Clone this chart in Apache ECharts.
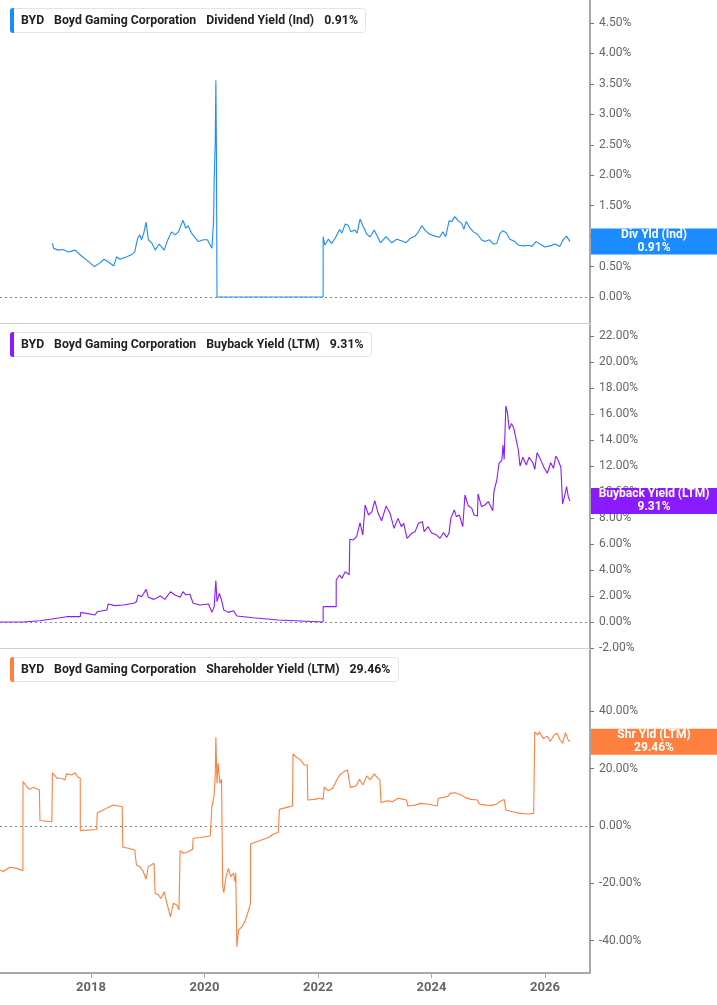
<!DOCTYPE html>
<html>
<head>
<meta charset="utf-8">
<script src="https://cdn.jsdelivr.net/npm/echarts@6/dist/echarts.min.js"></script>
<style>
  html, body { margin: 0; padding: 0; background: #fff; }
  #chart { width: 717px; height: 1005px; }
</style>
</head>
<body>
<div id="chart"></div>
<script>
// dates are decimal years
var divDates = [2017.32, 2017.34, 2017.42, 2017.51, 2017.60, 2017.72, 2017.81, 2017.92, 2018.06, 2018.16,
  2018.23, 2018.30, 2018.40, 2018.45, 2018.51, 2018.63, 2018.72, 2018.77, 2018.82, 2018.86,
  2018.89, 2018.93, 2018.97, 2019.01, 2019.07, 2019.13, 2019.20, 2019.29, 2019.34, 2019.42,
  2019.48, 2019.54, 2019.62, 2019.67, 2019.71, 2019.77, 2019.89, 2019.98, 2020.05, 2020.13,
  2020.16, 2020.17, 2020.19, 2020.20, 2020.21, 2020.22, 2022.09, 2022.091, 2022.12, 2022.18,
  2022.24, 2022.30, 2022.38, 2022.42, 2022.48, 2022.53, 2022.58, 2022.65, 2022.69, 2022.74,
  2022.80, 2022.86, 2022.92, 2022.99, 2023.05, 2023.10, 2023.20, 2023.30, 2023.39, 2023.48,
  2023.55, 2023.62, 2023.71, 2023.77, 2023.83, 2023.89, 2023.97, 2024.06, 2024.14, 2024.20,
  2024.25, 2024.31, 2024.36, 2024.41, 2024.47, 2024.53, 2024.57, 2024.61, 2024.68, 2024.74,
  2024.81, 2024.88, 2024.94, 2025.02, 2025.09, 2025.15, 2025.21, 2025.26, 2025.32, 2025.38,
  2025.47, 2025.53, 2025.62, 2025.71, 2025.77, 2025.84, 2025.91, 2026.00, 2026.09, 2026.18,
  2026.26, 2026.32, 2026.38, 2026.44];
var divValues = [0.88, 0.80, 0.77, 0.78, 0.74, 0.77, 0.69, 0.61, 0.50, 0.56,
  0.62, 0.58, 0.51, 0.66, 0.62, 0.66, 0.70, 0.74, 0.96, 1.02,
  0.94, 1.05, 1.23, 0.94, 0.89, 0.77, 0.87, 0.77, 0.91, 1.07,
  1.02, 1.07, 1.26, 1.13, 1.17, 1.05, 0.91, 0.94, 0.94, 0.80,
  1.26, 1.89, 2.58, 3.56, 2.36, 0, 0, 0.99, 0.85, 0.95,
  0.88, 0.96, 1.11, 1.05, 1.20, 1.18, 1.07, 1.10, 1.05, 1.28,
  1.15, 1.03, 0.99, 1.10, 0.99, 0.89, 0.99, 0.89, 0.95, 0.92,
  0.89, 0.96, 1.00, 1.07, 1.17, 1.09, 1.03, 1.00, 0.98, 1.07,
  0.99, 1.25, 1.24, 1.32, 1.25, 1.21, 1.11, 1.24, 1.13, 1.07,
  1.03, 0.94, 0.91, 0.94, 0.87, 0.88, 1.05, 1.09, 1.05, 0.95,
  0.91, 0.85, 0.84, 0.85, 0.83, 0.91, 0.87, 0.82, 0.84, 0.87,
  0.83, 0.94, 1.00, 0.91];

var buyDates = [2016.40, 2016.80, 2016.81, 2017.10, 2017.57, 2017.81, 2017.82, 2018.07, 2018.11, 2018.28,
  2018.30, 2018.42, 2018.57, 2018.75, 2018.80, 2018.83, 2018.89, 2018.93, 2018.97, 2019.01,
  2019.11, 2019.22, 2019.30, 2019.40, 2019.48, 2019.57, 2019.62, 2019.67, 2019.74, 2019.80,
  2019.92, 2020.07, 2020.13, 2020.17, 2020.20, 2020.22, 2020.26, 2020.30, 2020.34, 2020.42,
  2020.51, 2020.57, 2020.86, 2021.30, 2021.33, 2022.09, 2022.091, 2022.32, 2022.321, 2022.38,
  2022.42, 2022.48, 2022.55, 2022.56, 2022.62, 2022.68, 2022.74, 2022.79, 2022.83, 2022.89,
  2022.95, 2023.00, 2023.06, 2023.12, 2023.20, 2023.27, 2023.34, 2023.41, 2023.47, 2023.51,
  2023.57, 2023.65, 2023.71, 2023.77, 2023.84, 2023.87, 2023.94, 2024.00, 2024.09, 2024.15,
  2024.21, 2024.27, 2024.31, 2024.34, 2024.40, 2024.44, 2024.49, 2024.55, 2024.59, 2024.65,
  2024.71, 2024.75, 2024.81, 2024.82, 2024.88, 2024.94, 2025.00, 2025.08, 2025.10, 2025.15,
  2025.19, 2025.24, 2025.26, 2025.28, 2025.31, 2025.34, 2025.37, 2025.41, 2025.45, 2025.50,
  2025.53, 2025.56, 2025.61, 2025.67, 2025.72, 2025.79, 2025.82, 2025.86, 2025.92, 2025.98,
  2026.04, 2026.10, 2026.15, 2026.19, 2026.23, 2026.28, 2026.31, 2026.35, 2026.38, 2026.41,
  2026.44];
var buyValues = [0, 0, 0.1, 0.1, 0.41, 0.41, 0.74, 0.54, 0.79, 0.92,
  1.38, 1.26, 1.31, 1.44, 1.56, 2.08, 1.95, 2.21, 2.51, 1.90,
  1.74, 2.00, 1.74, 2.33, 2.08, 1.90, 2.33, 2.08, 2.15, 1.44,
  1.31, 1.38, 0.74, 1.18, 3.18, 1.56, 2.21, 1.69, 0.92, 0.74,
  0.87, 0.46, 0.33, 0.15, 0, 0, 1.18, 1.18, 3.23, 3.62,
  3.36, 3.87, 3.62, 6.36, 6.31, 6.56, 7.64, 6.69, 9.00, 8.23,
  8.49, 9.33, 8.36, 7.79, 8.92, 8.36, 7.21, 7.97, 7.33, 7.59,
  6.44, 6.82, 6.95, 7.59, 7.72, 6.95, 7.33, 6.87, 6.69, 6.44,
  6.87, 6.51, 6.87, 7.97, 8.62, 8.10, 8.23, 7.33, 9.77, 8.92,
  8.74, 8.23, 8.15, 9.85, 8.87, 9.00, 9.26, 8.56, 10.03, 10.92,
  12.21, 12.46, 13.62, 12.51, 16.62, 16.05, 14.82, 15.28, 14.90, 13.87,
  13.23, 12.00, 12.67, 12.08, 12.67, 12.21, 11.74, 13.02, 12.51, 11.90,
  11.44, 12.25, 11.82, 12.77, 12.46, 11.90, 9.08, 9.77, 10.41, 9.64,
  9.31];

var shrDates = [2016.40, 2016.45, 2016.57, 2016.69, 2016.80, 2016.801, 2016.87, 2016.92, 2016.98, 2017.09,
  2017.10, 2017.31, 2017.32, 2017.40, 2017.48, 2017.54, 2017.57, 2017.66, 2017.72, 2017.76,
  2017.81, 2017.811, 2018.10, 2018.11, 2018.19, 2018.30, 2018.39, 2018.48, 2018.55, 2018.56,
  2018.66, 2018.77, 2018.80, 2018.86, 2018.92, 2018.97, 2019.01, 2019.11, 2019.13, 2019.19,
  2019.23, 2019.29, 2019.33, 2019.40, 2019.45, 2019.51, 2019.55, 2019.57, 2019.63, 2019.71,
  2019.79, 2019.80, 2019.92, 2020.10, 2020.13, 2020.17, 2020.19, 2020.20, 2020.22, 2020.24,
  2020.27, 2020.30, 2020.32, 2020.34, 2020.38, 2020.42, 2020.46, 2020.51, 2020.54, 2020.55,
  2020.57, 2020.60, 2020.66, 2020.71, 2020.77, 2020.81, 2020.812, 2020.92, 2021.04, 2021.13,
  2021.21, 2021.30, 2021.32, 2021.45, 2021.55, 2021.56, 2021.62, 2021.69, 2021.76, 2021.81,
  2021.82, 2021.93, 2022.03, 2022.09, 2022.11, 2022.18, 2022.26, 2022.33, 2022.38, 2022.46,
  2022.52, 2022.57, 2022.67, 2022.73, 2022.79, 2022.86, 2022.92, 2022.99, 2023.04, 2023.09,
  2023.11, 2023.21, 2023.31, 2023.41, 2023.51, 2023.56, 2023.58, 2023.71, 2023.81, 2023.95,
  2024.10, 2024.12, 2024.22, 2024.30, 2024.32, 2024.42, 2024.52, 2024.59, 2024.69, 2024.81,
  2024.84, 2024.96, 2025.06, 2025.15, 2025.20, 2025.28, 2025.31, 2025.43, 2025.57, 2025.70,
  2025.80, 2025.82, 2025.87, 2025.90, 2025.97, 2026.04, 2026.09, 2026.16, 2026.21, 2026.26,
  2026.31, 2026.36, 2026.41, 2026.44];
var shrValues = [-15.4, -15.9, -14.4, -14.8, -15.6, 15.5, 13.7, 12.8, 13.5, 12.6,
  1.9, 1.5, 18.6, 16.7, 16.7, 16.1, 18.2, 17.8, 18.6, 17.2,
  16.7, -1.6, -1.2, 4.6, 5.3, 6.5, 7.3, 7.0, 6.7, -7.4,
  -7.8, -8.4, -13.6, -14.2, -15.9, -18.6, -14.2, -13.0, -23.5, -24.1,
  -25.3, -23.0, -26.4, -31.7, -27.0, -27.6, -29.3, -8.6, -9.5, -9.0,
  -8.1, -4.3, -4.0, -3.5, 6.7, 10.8, 18.4, 31.0, 14.9, 21.9,
  14.9, 16.3, -21.2, -23.3, -17.7, -14.8, -17.7, -16.5, -19.5, -16.3,
  -42.2, -36.3, -35.2, -33.4, -29.9, -27.0, -6.3, -5.5, -4.6, -4.0,
  -2.8, -2.3, 5.8, 6.5, 7.0, 25.2, 24.0, 23.1, 21.3, 21.3,
  9.1, 9.3, 9.7, 9.3, 13.7, 12.3, 13.2, 16.1, 17.8, 19.0,
  19.6, 13.5, 14.0, 16.3, 14.3, 17.5, 16.1, 18.2, 17.0, 16.1,
  8.1, 8.8, 8.5, 9.7, 9.3, 9.1, 7.0, 7.3, 7.9, 7.6,
  7.0, 9.7, 10.0, 10.5, 11.4, 11.6, 10.8, 10.0, 9.3, 9.1,
  7.7, 7.3, 7.2, 7.7, 8.5, 9.3, 5.6, 5.0, 4.4, 4.2,
  4.4, 32.9, 31.8, 32.9, 30.6, 31.4, 29.5, 31.8, 32.4, 30.3,
  28.9, 32.6, 30.0, 29.46];

var divTicks = [0, 0.5, 1, 1.5, 2, 2.5, 3, 3.5, 4, 4.5];
var buyTicks = [-2, 0, 2, 4, 6, 8, 10, 12, 14, 16, 18, 20, 22];
var shrTicks = [-40, -20, 0, 20, 40];
var yearTicks = [2018, 2020, 2022, 2024, 2026];
var xRange = [2016.396, 2026.793];

var divColor = '#1a8cff';
var buyColor = '#8a1aff';
var shrColor = '#ff7f3f';

function zip(dates, values) {
  return dates.map(function (d, i) { return [d, values[i]]; });
}

var font = 'Roboto';
var chart = echarts.init(document.getElementById('chart'));

function header(top, color, metric, value) {
  return {
    left: 10, top: top, padding: [0, 8, 0, 0],
    backgroundColor: '#fff', borderColor: '#e4e4e4', borderWidth: 1, borderRadius: 3,
    text: '{bar|}{g|}{b|BYD}{s|}{b|Boyd Gaming Corporation}{s|}{n|' + metric + '}{s|}{b|' + value + '}',
    textStyle: {
      fontFamily: font, fontSize: 12, lineHeight: 25,
      rich: {
        bar: { backgroundColor: color, width: 4, height: 25, borderRadius: [3, 0, 0, 3] },
        g: { width: 7, height: 25 },
        s: { width: 10, height: 25 },
        b: { fontFamily: font, fontSize: 12.3, fontWeight: 'bold', color: '#222', lineHeight: 25 },
        n: { fontFamily: font, fontSize: 12.3, color: '#222', lineHeight: 25 }
      }
    }
  };
}

function xAxisFor(idx, last) {
  return {
    type: 'value', gridIndex: idx,
    min: xRange[0], max: xRange[1],
    axisLine: { show: true, onZero: false, lineStyle: { color: last ? '#a8a8a8' : '#d0d0d0', width: last ? 2 : 1 } },
    axisTick: { show: last, length: 5, lineStyle: { color: '#a8a8a8' }, customValues: yearTicks },
    axisLabel: {
      show: last, fontFamily: font, fontSize: 13, fontWeight: 'bold', color: '#666', margin: 8,
      customValues: yearTicks,
      formatter: function (v) { return String(Math.round(v)); }
    },
    splitLine: { show: false }
  };
}

function yAxisFor(idx, min, max, ticks) {
  return {
    type: 'value', gridIndex: idx, position: 'right', min: min, max: max,
    axisLine: { show: true, lineStyle: { color: '#a8a8a8', width: 2 } },
    axisTick: { show: true, length: 4, lineStyle: { color: '#777' }, customValues: ticks },
    axisLabel: {
      fontFamily: font, fontSize: 12, color: '#666', margin: 9, customValues: ticks,
      formatter: function (v) { return v.toFixed(2) + '%'; }
    },
    splitLine: { show: false }
  };
}

function lineSeries(idx, data, color, tagTitle, tagValue, lastValue) {
  return {
    type: 'line', xAxisIndex: idx, yAxisIndex: idx, data: data, z: 10,
    showSymbol: false, symbol: 'none', animation: false,
    lineStyle: { color: color, width: 1.1 },
    markLine: {
      silent: true, symbol: 'none', animation: false, z: 10,
      data: [
        {
          yAxis: 0,
          lineStyle: { color: '#888', type: [2, 3], width: 1.2 },
          label: { show: false }
        },
        {
          yAxis: lastValue,
          lineStyle: { color: 'rgba(0,0,0,0)', width: 0 },
          label: {
            show: true, position: 'end', distance: 1,
            backgroundColor: color, padding: [0, 0],
            formatter: '{t|' + tagTitle + '}\n{t|' + tagValue + '}',
            rich: {
              t: {
                fontFamily: font, fontSize: 12, fontWeight: 'bold', color: '#fff',
                width: 126, align: 'center', lineHeight: 13
              }
            }
          }
        }
      ]
    }
  };
}

var option = {
  backgroundColor: '#fff',
  animation: false,
  title: [
    header(8, divColor, 'Dividend Yield (Ind)', '0.91%'),
    header(332, buyColor, 'Buyback Yield (LTM)', '9.31%'),
    header(657, shrColor, 'Shareholder Yield (LTM)', '29.46%')
  ],
  grid: [
    { left: 0, right: 127, top: 0, height: 323 },
    { left: 0, right: 127, top: 325, height: 323 },
    { left: 0, right: 127, top: 650, height: 323 }
  ],
  xAxis: [xAxisFor(0, false), xAxisFor(1, false), xAxisFor(2, true)],
  yAxis: [
    yAxisFor(0, -0.427, 4.878, divTicks),
    yAxisFor(1, -2, 22.846, buyTicks),
    yAxisFor(2, -51.35, 61.48, shrTicks)
  ],
  series: [
    lineSeries(0, zip(divDates, divValues), divColor, 'Div Yld (Ind)', '0.91%', 0.91),
    lineSeries(1, zip(buyDates, buyValues), buyColor, 'Buyback Yield (LTM)', '9.31%', 9.31),
    lineSeries(2, zip(shrDates, shrValues), shrColor, 'Shr Yld (LTM)', '29.46%', 29.46)
  ]
};

chart.setOption(option);
</script>
</body>
</html>
